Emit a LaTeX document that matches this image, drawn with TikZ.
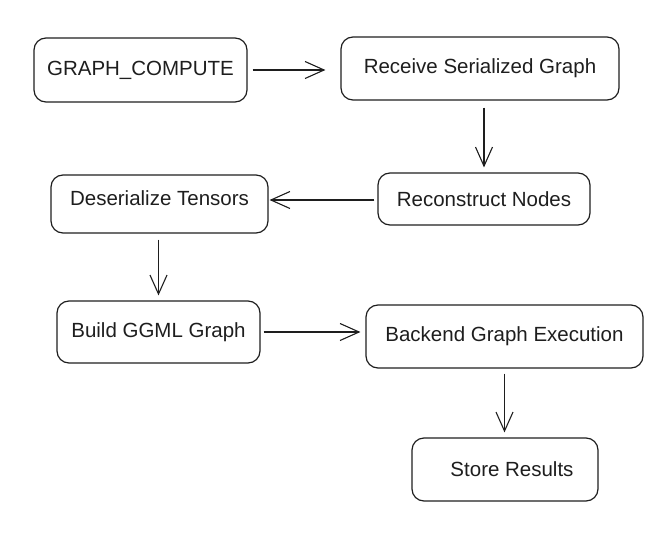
\documentclass[tikz,border=0pt]{standalone}
\usepackage{fontspec}
\setmainfont{Liberation Sans}
\usepackage{tikz}
\usetikzlibrary{arrows.meta,positioning,calc}
\definecolor{sink}{HTML}{1E1E1E}

\tikzset{
  stage/.style={draw=sink,text=sink,line width=1.2pt,rounded corners=12pt,
    inner sep=0pt,font=\fontsize{20.5pt}{24pt}\selectfont},
  flow/.style={draw=sink,line width=1.1pt,-{Straight Barb[length=19pt,width=17pt]}}
}

\begin{document}
\begin{tikzpicture}[x=1pt,y=-1pt]
  \useasboundingbox (0,0) rectangle (667,538);

  \node[stage,minimum width=213pt,minimum height=64pt] (gc) at (140.5,70) {GRAPH\_COMPUTE};
  \node[stage,minimum width=278pt,minimum height=63pt] (recv) at (480,68.5) {Receive Serialized Graph};
  \node[stage,minimum width=212pt,minimum height=52pt] (rec) at (484,199) {Reconstruct Nodes};
  \node[stage,minimum width=217pt,minimum height=58pt,text depth=12pt] (des) at (159.5,204) {Deserialize Tensors};
  \node[stage,minimum width=203pt,minimum height=62pt] (build) at (158.5,332) {Build GGML Graph};
  \node[stage,minimum width=277pt,minimum height=63pt] (exec) at (504.5,336.5) {Backend Graph Execution};
  \node[stage,minimum width=186pt,minimum height=63pt] (store) at (505,469.5) {\hspace*{14pt}Store Results};

  \draw[flow,shorten <=5pt,shorten >=15pt] (gc.east) -- (gc.east -| recv.west);
  \draw[flow,shorten <=7pt,shorten >=5pt] (recv.south -| rec.north) -- (rec.north);
  \draw[flow,shorten <=3pt,shorten >=1pt] ([yshift=-1pt]rec.west) -- ([yshift=-1pt]rec.west -| des.east);
  \draw[flow,shorten <=6pt,shorten >=5pt] (des.south -| build.north) -- (build.north);
  \draw[flow,shorten <=3pt,shorten >=5pt] (build.east) -- (build.east -| exec.west);
  \draw[flow,shorten <=5pt,shorten >=5pt] (exec.south) -- (exec.south |- store.north);
\end{tikzpicture}
\end{document}
